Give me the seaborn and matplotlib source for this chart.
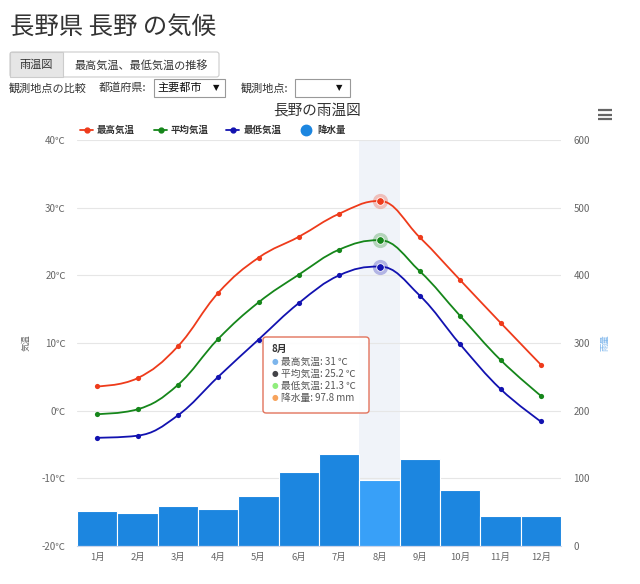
import numpy as np
import pandas as pd
import matplotlib
matplotlib.use("Agg")
import matplotlib.pyplot as plt
import seaborn as sns
from matplotlib.path import Path
from matplotlib.patches import PathPatch, FancyBboxPatch, Rectangle
from matplotlib.lines import Line2D

# ---------------- data ----------------
months = ["1月", "2月", "3月", "4月", "5月", "6月", "7月", "8月", "9月", "10月", "11月", "12月"]
temp_max = [3.6, 4.8, 9.5, 17.4, 22.6, 25.7, 29.1, 31.0, 25.6, 19.3, 13.0, 6.8]
temp_mean = [-0.5, 0.2, 3.8, 10.6, 16.0, 20.1, 23.8, 25.2, 20.6, 14.0, 7.5, 2.2]
temp_min = [-4.0, -3.7, -0.7, 5.0, 10.5, 15.9, 20.0, 21.3, 17.0, 9.8, 3.2, -1.6]
precip = [51.0, 49.0, 58.9, 54.5, 74.3, 109.4, 135.6, 97.8, 129.2, 82.2, 43.6, 44.6]
temp_ticks = [-20, -10, 0, 10, 20, 30, 40]
precip_ticks = [0, 100, 200, 300, 400, 500, 600]
series_names = ["最高気温", "平均気温", "最低気温", "降水量"]
highlight = 7  # hovered month (8月)

# ---------------- style ----------------
sns.set_style("white")
plt.rcParams["font.family"] = ["Noto Sans CJK JP", "DejaVu Sans"]

RED = "#ee3b1b"
GREEN = "#15861a"
BLUE = "#1212b0"
BAR = "#1c86e0"
BAR_HOVER = "#38a0f8"
TXT = "#333333"
GRAY = "#666666"

W, H = 640, 584
fig = plt.figure(figsize=(6.4, 5.84), dpi=100)


def P(x, y):
    return (x / W, 1 - y / H)


def spline_path(xs, ys, smoothing=1.5):
    n = len(xs)
    left = [None] * n
    right = [None] * n
    right[0] = (xs[0], ys[0])
    left[n - 1] = (xs[-1], ys[-1])
    d = smoothing + 1
    for i in range(1, n - 1):
        lx = (smoothing * xs[i] + xs[i - 1]) / d
        ly = (smoothing * ys[i] + ys[i - 1]) / d
        rx = (smoothing * xs[i] + xs[i + 1]) / d
        ry = (smoothing * ys[i] + ys[i + 1]) / d
        corr = ((ry - ly) * (rx - xs[i])) / (rx - lx) + ys[i] - ry
        ly += corr
        ry += corr
        if ly > ys[i - 1] and ly > ys[i]:
            ly = max(ys[i - 1], ys[i]); ry = 2 * ys[i] - ly
        elif ly < ys[i - 1] and ly < ys[i]:
            ly = min(ys[i - 1], ys[i]); ry = 2 * ys[i] - ly
        if ry > ys[i + 1] and ry > ys[i]:
            ry = max(ys[i + 1], ys[i]); ly = 2 * ys[i] - ry
        elif ry < ys[i + 1] and ry < ys[i]:
            ry = min(ys[i + 1], ys[i]); ly = 2 * ys[i] - ry
        left[i] = (lx, ly)
        right[i] = (rx, ry)
    verts = [(xs[0], ys[0])]
    codes = [Path.MOVETO]
    for i in range(1, n):
        verts += [right[i - 1], left[i], (xs[i], ys[i])]
        codes += [Path.CURVE4] * 3
    return Path(verts, codes)


# ---------------- page header ----------------
fig.text(*P(10, 27), "長野県 長野 の気候", fontsize=17.6, color=TXT, va="center", ha="left")

# button group
fig.add_artist(FancyBboxPatch(P(10, 77), 209 / W, 25 / H, boxstyle="round,pad=0,rounding_size=0.004",
                              transform=fig.transFigure, facecolor="white", edgecolor="#cccccc", lw=0.8))
fig.add_artist(Rectangle(P(10, 77), 53 / W, 25 / H, transform=fig.transFigure,
                         facecolor="#e6e6e6", edgecolor="#cccccc", lw=0.8))
fig.text(*P(36.5, 65), "雨温図", fontsize=8, color=TXT, ha="center", va="center")
fig.text(*P(141, 65), "最高気温、最低気温の推移", fontsize=8, color=TXT, ha="center", va="center")

# selector row
fig.text(*P(9, 88), "観測地点の比較", fontsize=8, color=TXT, ha="left", va="center")
fig.text(*P(99, 88), "都道府県:", fontsize=8, color=TXT, ha="left", va="center")
fig.add_artist(Rectangle(P(154, 97), 71 / W, 18 / H, transform=fig.transFigure,
                         facecolor="white", edgecolor="#999999", lw=0.8))
fig.text(*P(157, 88), "主要都市", fontsize=8, color="#111111", ha="left", va="center")
fig.text(*P(216, 88), "▼", fontsize=6, color="#111111", ha="center", va="center",
         family=["DejaVu Sans"])
fig.text(*P(241, 88), "観測地点:", fontsize=8, color=TXT, ha="left", va="center")
fig.add_artist(Rectangle(P(295, 97), 55 / W, 18 / H, transform=fig.transFigure,
                         facecolor="white", edgecolor="#999999", lw=0.8))
fig.text(*P(339, 88), "▼", fontsize=6, color="#111111", ha="center", va="center",
         family=["DejaVu Sans"])

# chart title
fig.text(*P(317, 111), "長野の雨温図", fontsize=10.5, color=TXT, ha="center", va="center")

# hamburger menu
for yy in (110, 114.5, 119):
    fig.add_artist(Line2D([598 / W, 612 / W], [1 - yy / H] * 2, transform=fig.transFigure,
                          color=GRAY, lw=1.6, solid_capstyle="butt"))

# legend
leg_y = 130
for (x0, x1, tx), name, c in zip([(80, 93, 97), (154, 167, 171), (226, 239, 244)],
                                 series_names[:3], [RED, GREEN, BLUE]):
    fig.add_artist(Line2D([x0 / W, x1 / W], [1 - leg_y / H] * 2, transform=fig.transFigure,
                          color=c, lw=1.3))
    fig.add_artist(Line2D([(x0 + x1) / 2 / W], [1 - leg_y / H], transform=fig.transFigure,
                          color=c, marker="o", ms=3.5, lw=0))
    fig.text(*P(tx, leg_y), name, fontsize=6.8, fontweight="bold", color=TXT, ha="left", va="center")
fig.add_artist(Line2D([306 / W], [1 - leg_y / H], transform=fig.transFigure,
                      color=BAR, marker="o", ms=7.5, lw=0))
fig.text(*P(317, leg_y), series_names[3], fontsize=6.8, fontweight="bold", color=TXT,
         ha="left", va="center")

# ---------------- chart ----------------
ax = fig.add_axes([77 / W, 1 - 546 / H, 484 / W, 406 / H])
df = pd.DataFrame({"month": months, "precip": precip})
sns.barplot(data=df, x="month", y="precip", ax=ax, color=BAR, saturation=1, width=1.0,
            edgecolor="white", linewidth=0.8, zorder=2)
bars = ax.containers[0]
bars[highlight].set_facecolor(BAR_HOVER)
ax.axvspan(highlight - 0.5, highlight + 0.5, color="#f0f3f9", zorder=0.2, lw=0)
ax.set_xlim(-0.5, len(months) - 0.5)
ax.set_ylim(precip_ticks[0], precip_ticks[-1])
ax.set_xlabel("")
ax.set_ylabel("")

ax2 = ax.twinx()
ax2.set_ylim(temp_ticks[0], temp_ticks[-1])
xpos = np.arange(len(months))
for vals, c in [(temp_max, RED), (temp_mean, GREEN), (temp_min, BLUE)]:
    ax2.add_patch(PathPatch(spline_path(list(xpos.astype(float)), list(vals)), facecolor="none",
                            edgecolor=c, lw=1.3, zorder=3))
    sns.scatterplot(x=xpos, y=vals, ax=ax2, color=c, s=14, linewidth=0, zorder=4, legend=False)
    sns.scatterplot(x=[xpos[highlight]], y=[vals[highlight]], ax=ax2, color=c, s=120,
                    linewidth=0, alpha=0.28, zorder=4, legend=False)
    sns.scatterplot(x=[xpos[highlight]], y=[vals[highlight]], ax=ax2, color=c, s=30,
                    edgecolor="white", linewidth=0.6, zorder=5, legend=False)
ax2.set_xlim(-0.5, len(months) - 0.5)

# axes styling
ax.yaxis.tick_right()
ax.set_yticks(precip_ticks)
ax.set_yticklabels([str(v) for v in precip_ticks])
ax.tick_params(axis="y", length=0, pad=9, labelsize=7, labelcolor=GRAY)
ax.set_xticks(xpos)
ax.set_xticklabels(months)
ax.set_xticks(np.arange(-0.5, len(months), 1.0), minor=True)
ax.tick_params(axis="x", which="major", length=0, pad=5, labelsize=6.8, labelcolor=GRAY)
ax.tick_params(axis="x", which="minor", length=7, width=0.8, color="#ccd6eb")
ax.yaxis.grid(True, color="#e6e6e6", lw=0.8)
ax.set_axisbelow(True)

ax2.yaxis.tick_left()
ax2.set_yticks(temp_ticks)
ax2.set_yticklabels([f"{v}℃" for v in temp_ticks])
ax2.tick_params(axis="y", length=0, pad=8, labelsize=7, labelcolor=GRAY)
ax2.set_ylabel("")

for a in (ax, ax2):
    for s in a.spines.values():
        s.set_visible(False)
ax.spines["bottom"].set_visible(True)
ax.spines["bottom"].set_color("#ccd6eb")
ax.spines["bottom"].set_linewidth(0.8)
ax.spines["bottom"].set_zorder(3)

# axis titles
fig.text(*P(26, 343), "気温", rotation=90, fontsize=6, color=GRAY, ha="center", va="center")
fig.text(*P(605, 343), "雨量", rotation=90, fontsize=6, color="#7cb5ec", ha="center", va="center")

# ---------------- tooltip ----------------
tip = FancyBboxPatch(P(263, 413), 106 / W, 76 / H, boxstyle="round,pad=0,rounding_size=0.005",
                     transform=fig.transFigure, facecolor=(1, 1, 1, 0.92), edgecolor="#e2735c",
                     lw=1.0, zorder=10)
fig.add_artist(tip)
fig.text(*P(272, 349), months[highlight], fontsize=7, fontweight="bold", color=TXT,
         ha="left", va="center", zorder=11)
tip_rows = [
    (series_names[0], f"{temp_max[highlight]:g} ℃", "#7cb5ec"),
    (series_names[1], f"{temp_mean[highlight]:g} ℃", "#434348"),
    (series_names[2], f"{temp_min[highlight]:g} ℃", "#90ed7d"),
    (series_names[3], f"{precip[highlight]:g} mm", "#f7a35c"),
]
for (name, val, c), yy in zip(tip_rows, [361.5, 373.5, 385.5, 397.5]):
    fig.text(*P(275, yy), "●", fontsize=5.5, color=c, ha="center", va="center", zorder=11,
             family=["DejaVu Sans"])
    fig.text(*P(281, yy), f"{name}: {val}", fontsize=7, color="#555555", ha="left",
             va="center", zorder=11)

fig.savefig("out.png", dpi=100)
